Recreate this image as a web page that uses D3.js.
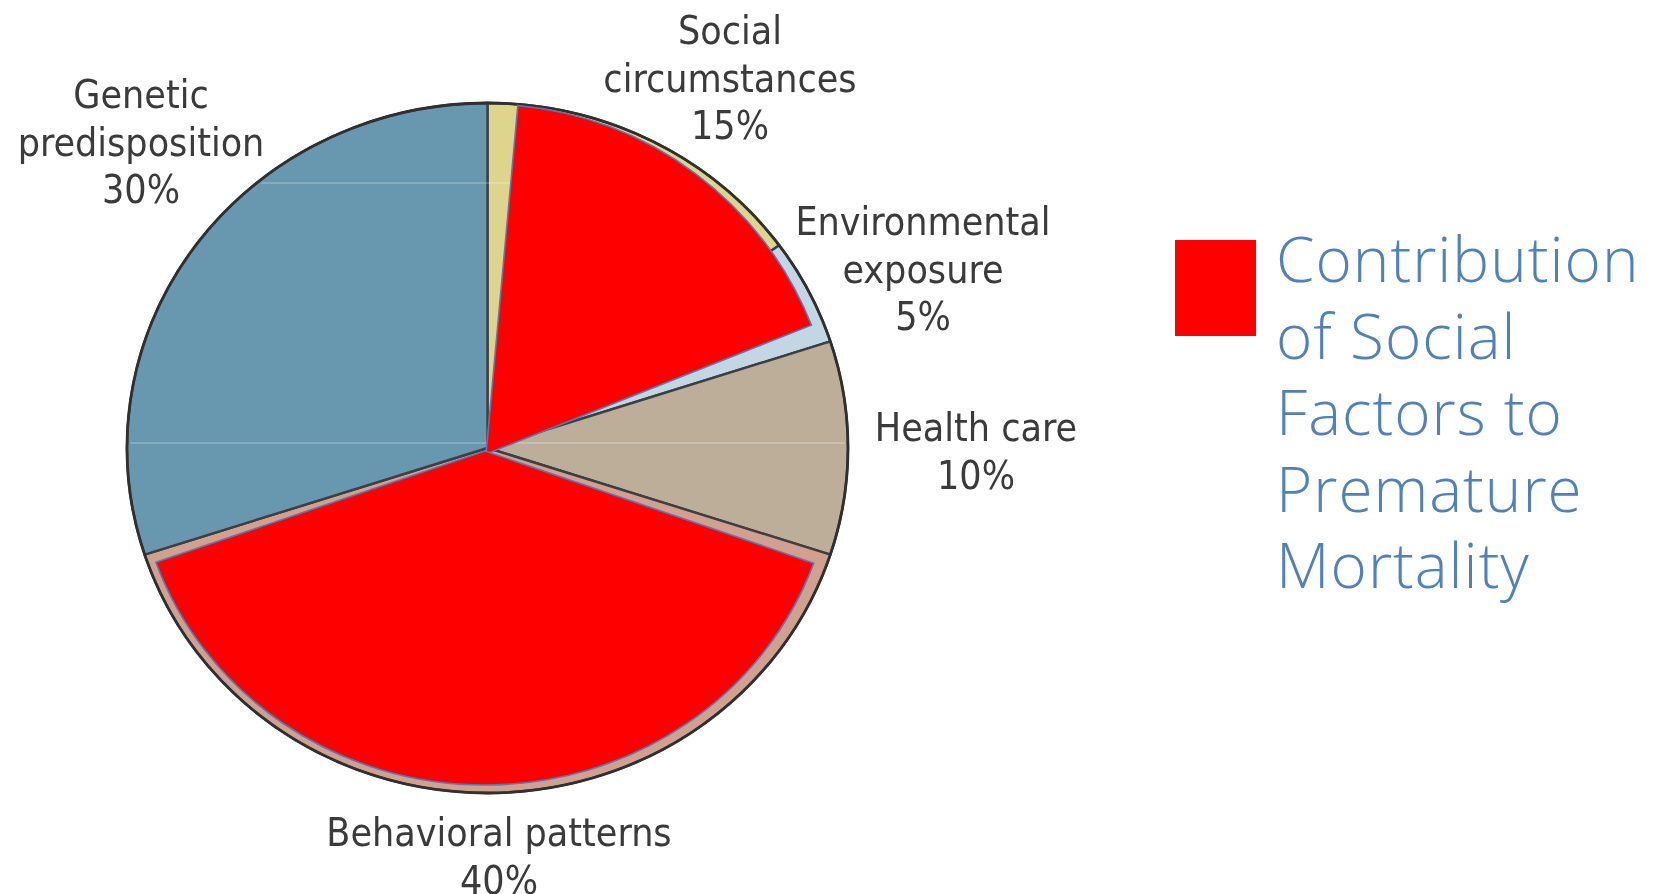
<!DOCTYPE html>
<html>
<head>
<meta charset="utf-8">
<script src="https://cdn.jsdelivr.net/npm/d3@7/dist/d3.min.js"></script>
<style>
  html, body { margin: 0; padding: 0; background: #ffffff; }
  svg { display: block; }
</style>
</head>
<body>
<svg id="chart" width="1671" height="894"></svg>
<script>
// ---------------- data ----------------
const categories = ["Social circumstances", "Environmental exposure", "Health care", "Behavioral patterns", "Genetic predisposition"];
const values = [15, 5, 10, 40, 30];
const labelLines = [
  ["Social", "circumstances", "15%"],
  ["Environmental", "exposure", "5%"],
  ["Health care", "10%"],
  ["Behavioral patterns", "40%"],
  ["Genetic", "predisposition", "30%"]
];
// red highlight overlays (share of the full circle, in percent)
const highlightNames = ["Social circumstances", "Behavioral patterns"];
const highlightStart = [1.45, 30.45];
const highlightEnd = [19.0, 69.6];
const legendLines = ["Contribution", "of Social", "Factors to", "Premature", "Mortality"];

// ---------------- styles / layout ----------------
const sliceColors = ["#ddd58c", "#c3d6e4", "#bdae9a", "#d1a08e", "#6897b0"];
const W = 1671, H = 894;
const cx = 487.5, cy = 448, R = 360.5, ySquash = 0.957;

const svg = d3.select("#chart");
const defs = svg.append("defs");
defs.append("filter").attr("id", "soft")
  .append("feGaussianBlur").attr("stdDeviation", 0.6);

const pct = d3.scaleLinear().domain([0, 100]).range([0, 2 * Math.PI]);

// base pie
const pie = d3.pie().sort(null).value(d => d.v).startAngle(0).endAngle(2 * Math.PI);
const arcs = pie(categories.map((c, i) => ({ c, v: values[i], i })));
const arc = d3.arc().innerRadius(0).outerRadius(R);

const g = svg.append("g")
  .attr("transform", `translate(${cx},${cy}) scale(1,${ySquash})`);

g.selectAll("path.slice")
  .data(arcs)
  .join("path")
  .attr("class", "slice")
  .attr("d", arc)
  .attr("fill", d => sliceColors[d.data.i])
  .attr("stroke", "#3c4040")
  .attr("stroke-width", 2.4)
  .attr("stroke-linejoin", "round")
  .attr("vector-effect", "non-scaling-stroke");

// faint scan lines seen in the source image
const clipId = "pieclip";
defs.append("clipPath").attr("id", clipId)
  .append("ellipse").attr("cx", cx).attr("cy", cy).attr("rx", R - 3).attr("ry", R * ySquash - 3);
svg.append("g").attr("clip-path", `url(#${clipId})`)
  .selectAll("line").data([183, 443]).join("line")
  .attr("x1", 0).attr("x2", W).attr("y1", d => d).attr("y2", d => d)
  .attr("stroke", "#ffffff").attr("stroke-opacity", 0.2).attr("stroke-width", 2);

// outer rim
svg.append("ellipse")
  .attr("cx", cx).attr("cy", cy).attr("rx", R).attr("ry", R * ySquash)
  .attr("fill", "none").attr("stroke", "#303030").attr("stroke-width", 2.8);

// red highlight overlays
const overlayGeom = [
  { x: 486, y: 454, r: 350, sy: 1.0 },
  { x: 485, y: 451, r: 349, sy: ySquash }
];
const hArc = d3.arc().innerRadius(0);
highlightNames.forEach((name, k) => {
  const geo = overlayGeom[k];
  svg.append("g")
    .attr("transform", `translate(${geo.x},${geo.y}) scale(1,${geo.sy})`)
    .append("path")
    .datum({ startAngle: pct(highlightStart[k]), endAngle: pct(highlightEnd[k]), outerRadius: geo.r })
    .attr("d", hArc)
    .attr("fill", "#ff0000")
    .attr("stroke", "#4a7ebb")
    .attr("stroke-width", 1.6)
    .attr("stroke-linejoin", "miter")
    .attr("vector-effect", "non-scaling-stroke");
});

// category labels
const labelPos = [
  { x: 730, y: 44 },
  { x: 923, y: 235 },
  { x: 976, y: 441 },
  { x: 499, y: 846 },
  { x: 141, y: 108 }
];
const lineGap = 47.5;
const labelG = svg.append("g").attr("filter", "url(#soft)");
labelLines.forEach((lines, i) => {
  const t = labelG.append("text")
    .attr("text-anchor", "middle")
    .attr("font-family", "'DejaVu Sans Condensed', 'DejaVu Sans', sans-serif")
    .attr("font-stretch", "condensed")
    .attr("font-size", 39)
    .attr("fill", "#3a3a3a");
  lines.forEach((ln, j) => {
    t.append("tspan").attr("x", labelPos[i].x).attr("y", labelPos[i].y + j * lineGap).text(ln);
  });
});

// legend
svg.append("rect")
  .attr("x", 1175).attr("y", 240).attr("width", 81).attr("height", 96)
  .attr("fill", "#ff0000");
const lt = svg.append("text")
  .attr("font-family", "'Open Sans', 'Noto Sans', sans-serif")
  .attr("font-size", 62)
  .attr("font-weight", 300)
  .attr("letter-spacing", 1)
  .attr("fill", "#4f81bd");
legendLines.forEach((ln, j) => {
  lt.append("tspan").attr("x", 1276).attr("y", 282 + j * 76.5).text(ln);
});
</script>
</body>
</html>
